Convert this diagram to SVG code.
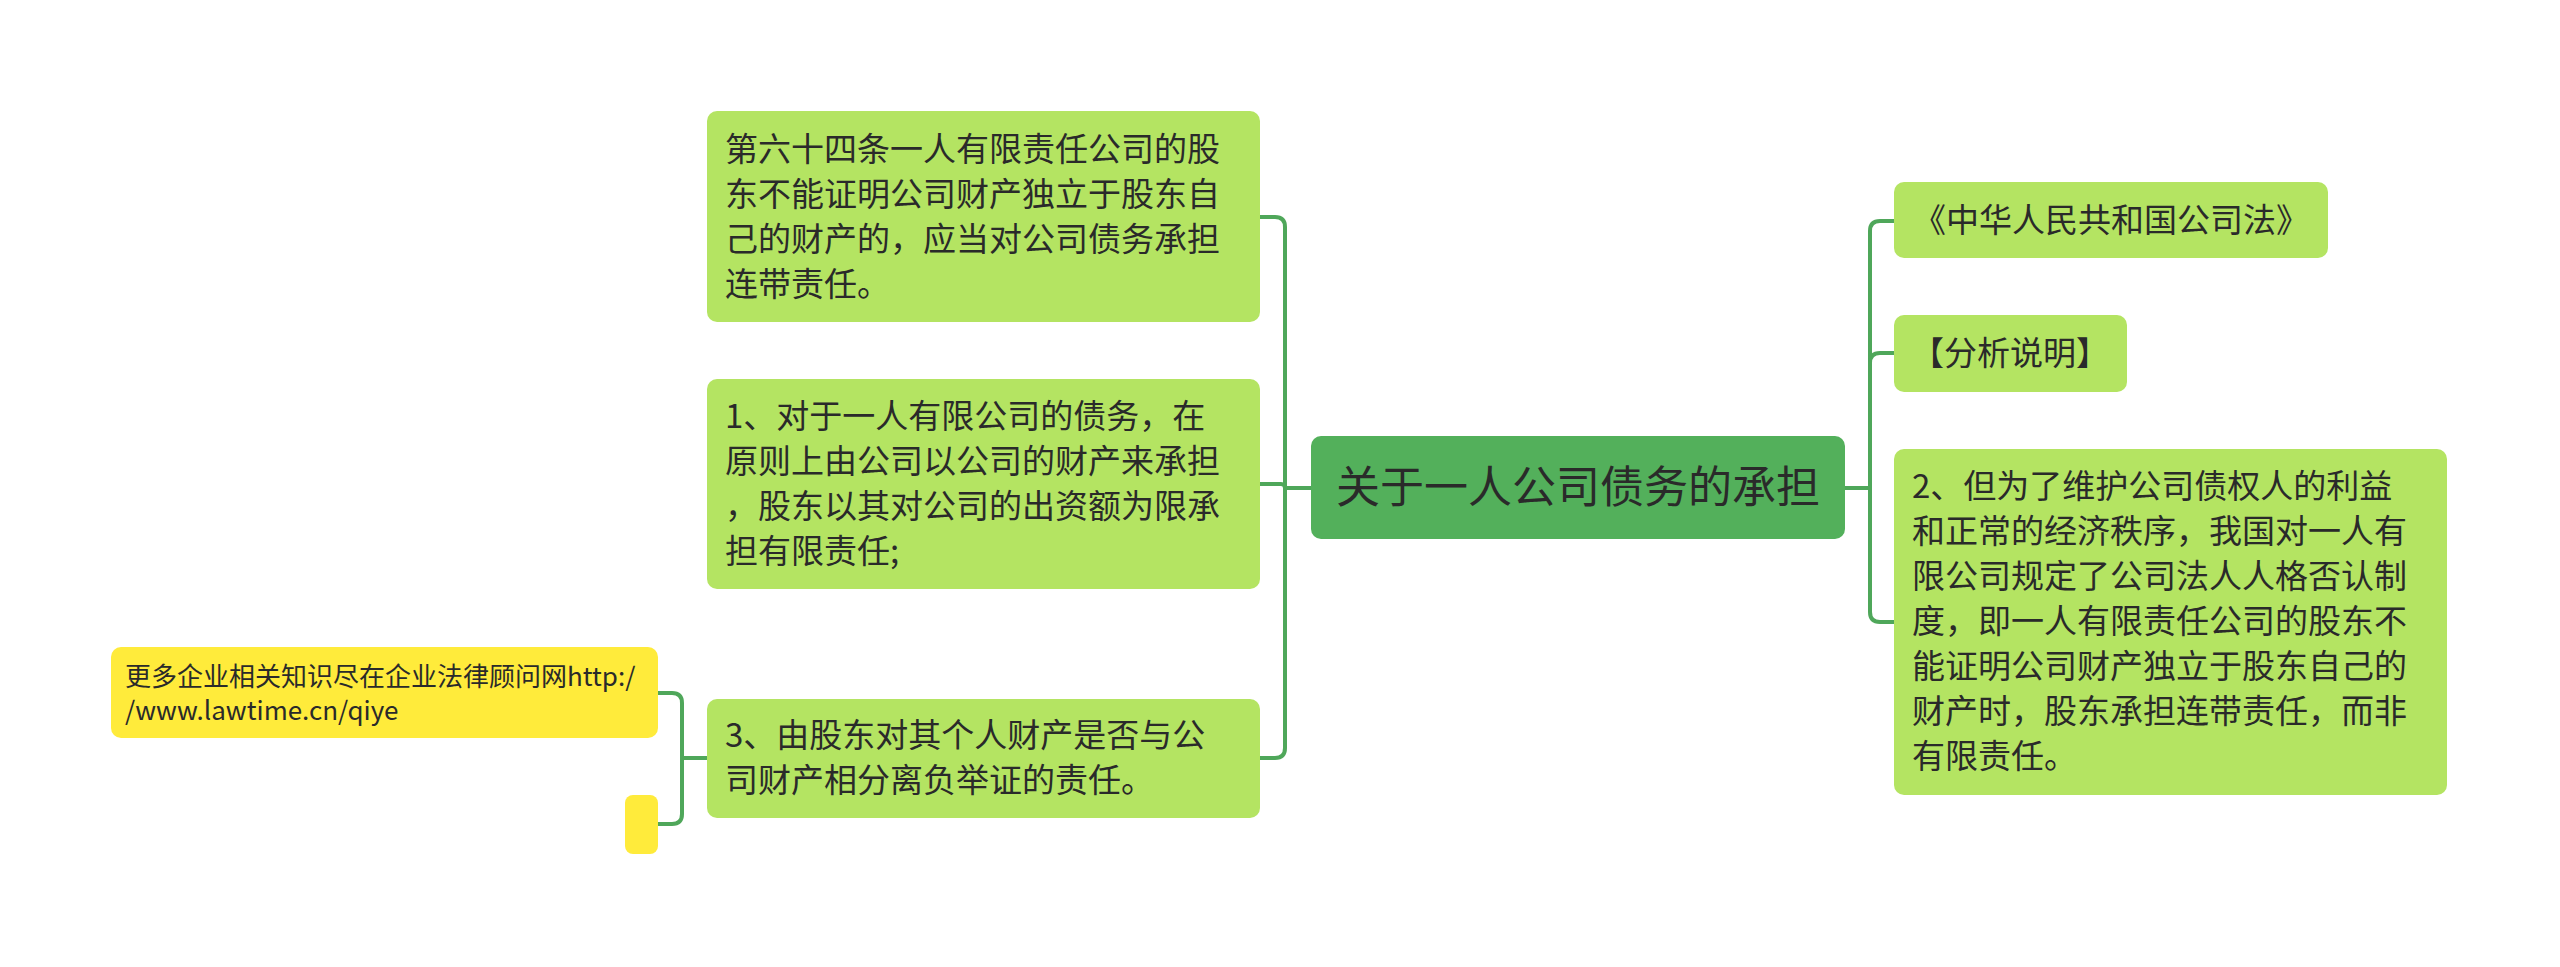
<svg xmlns="http://www.w3.org/2000/svg" width="2560" height="967" viewBox="0 0 2560 967">
<style>
text{font-family:"Noto Sans CJK SC","Noto Sans",sans-serif;fill:#2a2a2a}
.c{font-size:33px}
.y{font-size:26px}
.m{font-size:44px}
.lg{fill:#b4e462}
.dg{fill:#53b05b}
.yl{fill:#ffeb3b}
.ln{fill:none;stroke:#4fa75a;stroke-width:4}
</style>
<rect width="2560" height="967" fill="#ffffff"/>
<g id="connectors">
<path class="ln" d="M1311,488 H1285"/>
<path class="ln" d="M1285,488 V227 Q1285,217 1275,217 H1260"/>
<path class="ln" d="M1285,488 Q1285,484 1281,484 H1260"/>
<path class="ln" d="M1285,488 V748 Q1285,758 1275,758 H1260"/>
<path class="ln" d="M1845,488 H1870"/>
<path class="ln" d="M1870,488 V231 Q1870,221 1880,221 H1894"/>
<path class="ln" d="M1870,488 V363 Q1870,353 1880,353 H1894"/>
<path class="ln" d="M1870,488 V612 Q1870,622 1880,622 H1894"/>
<path class="ln" d="M707,758 H682"/>
<path class="ln" d="M682,758 V703 Q682,693 672,693 H658"/>
<path class="ln" d="M682,758 V814 Q682,824 672,824 H658"/>
</g>
<g id="center">
<rect class="dg" x="1311" y="436" width="534" height="103" rx="10"/>
<text class="m" x="1578" y="503" text-anchor="middle">关于一人公司债务的承担</text>
</g>
<g id="nodeA">
<rect class="lg" x="707" y="111" width="553" height="211" rx="10"/>
<text class="c" x="725" y="161">第六十四条一人有限责任公司的股</text>
<text class="c" x="725" y="206">东不能证明公司财产独立于股东自</text>
<text class="c" x="725" y="251">己的财产的，应当对公司债务承担</text>
<text class="c" x="725" y="296">连带责任。</text>
</g>
<g id="nodeB">
<rect class="lg" x="707" y="379" width="553" height="210" rx="10"/>
<text class="c" x="725" y="428">1、对于一人有限公司的债务，在</text>
<text class="c" x="725" y="473">原则上由公司以公司的财产来承担</text>
<text class="c" x="725" y="518">，股东以其对公司的出资额为限承</text>
<text class="c" x="725" y="563">担有限责任;</text>
</g>
<g id="nodeC">
<rect class="lg" x="707" y="699" width="553" height="119" rx="10"/>
<text class="c" x="725" y="747">3、由股东对其个人财产是否与公</text>
<text class="c" x="725" y="792">司财产相分离负举证的责任。</text>
</g>
<g id="nodeD">
<rect class="yl" x="111" y="647" width="547" height="91" rx="10"/>
<text class="y" x="125" y="686">更多企业相关知识尽在企业法律顾问网http:/</text>
<text class="y" x="125" y="720">/www.lawtime.cn/qiye</text>
</g>
<g id="nodeEmpty">
<rect class="yl" x="625" y="795" width="33" height="59" rx="8"/>
</g>
<g id="nodeE">
<rect class="lg" x="1894" y="182" width="434" height="76" rx="10"/>
<text class="c" x="1913" y="232">《中华人民共和国公司法》</text>
</g>
<g id="nodeF">
<rect class="lg" x="1894" y="315" width="233" height="77" rx="10"/>
<text class="c" x="1911" y="365">【分析说明】</text>
</g>
<g id="nodeG">
<rect class="lg" x="1894" y="449" width="553" height="346" rx="10"/>
<text class="c" x="1912" y="498">2、但为了维护公司债权人的利益</text>
<text class="c" x="1912" y="543">和正常的经济秩序，我国对一人有</text>
<text class="c" x="1912" y="588">限公司规定了公司法人人格否认制</text>
<text class="c" x="1912" y="633">度，即一人有限责任公司的股东不</text>
<text class="c" x="1912" y="678">能证明公司财产独立于股东自己的</text>
<text class="c" x="1912" y="723">财产时，股东承担连带责任，而非</text>
<text class="c" x="1912" y="768">有限责任。</text>
</g>
</svg>
